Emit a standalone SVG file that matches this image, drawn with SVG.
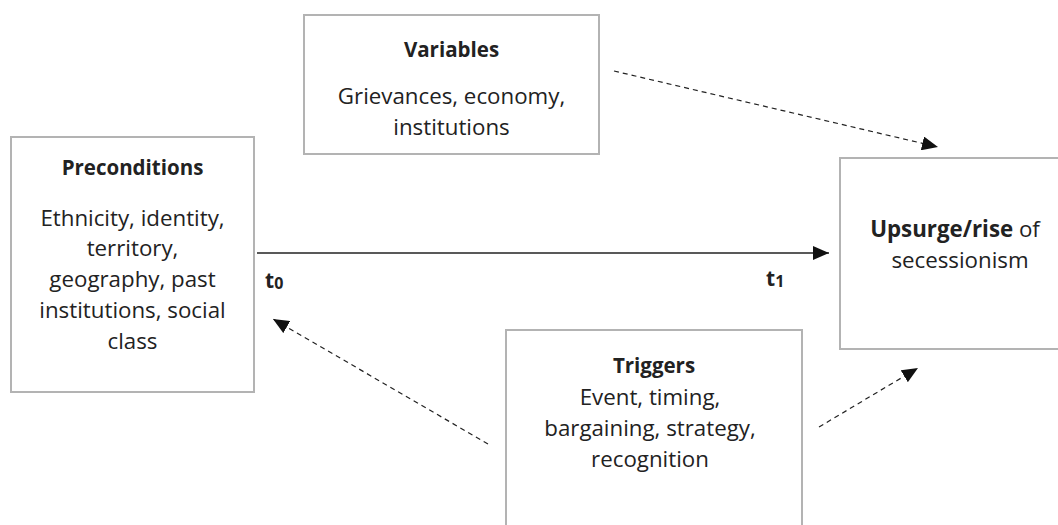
<svg xmlns="http://www.w3.org/2000/svg" width="1058" height="525" viewBox="0 0 1058 525">
<style>
.box{fill:#fff;stroke:#b3b3b3;stroke-width:2}
.t{font-family:"Open Sans","Liberation Sans",sans-serif;font-size:22.3px;fill:#222;text-anchor:middle}
.h{font-weight:bold;font-size:20.5px}
.tl{font-family:"Open Sans","Liberation Sans",sans-serif;font-size:21px;font-weight:bold;fill:#222}
.solid{stroke:#222;stroke-width:1.4;fill:none}
.dash{stroke:#222;stroke-width:1.2;fill:none;stroke-dasharray:5 4}
</style>
<defs>
<marker id="ah" markerUnits="userSpaceOnUse" markerWidth="18" markerHeight="14" refX="16" refY="7" orient="auto">
<path d="M0,0 L16,7 L0,14 Z" fill="#111"/>
</marker>
</defs>
<rect width="1058" height="525" fill="#fff"/>
<g id="preconditions">
<rect class="box" x="11" y="137" width="243" height="255"/>
<text class="t h" x="132.5" y="175">Preconditions</text>
<text class="t" x="132.5" y="226">Ethnicity, identity,</text>
<text class="t" x="132.5" y="256">territory,</text>
<text class="t" x="132.5" y="287">geography, past</text>
<text class="t" x="132.5" y="318">institutions, social</text>
<text class="t" x="132.5" y="349">class</text>
</g>
<g id="variables">
<rect class="box" x="304" y="15" width="295" height="139"/>
<text class="t h" x="451.5" y="57">Variables</text>
<text class="t" x="451.5" y="104">Grievances, economy,</text>
<text class="t" x="451.5" y="135">institutions</text>
</g>
<g id="upsurge">
<rect class="box" x="840" y="158" width="260" height="191"/>
<text class="t" x="955" y="237"><tspan font-weight="bold">Upsurge/rise</tspan> of</text>
<text class="t" x="960" y="268">secessionism</text>
</g>
<g id="triggers">
<rect class="box" x="506" y="330" width="296" height="210"/>
<text class="t h" x="654" y="373">Triggers</text>
<text class="t" x="650" y="405">Event, timing,</text>
<text class="t" x="650" y="436">bargaining, strategy,</text>
<text class="t" x="650" y="467">recognition</text>
</g>
<g id="connectors">
<line class="solid" x1="257" y1="253" x2="829" y2="253" marker-end="url(#ah)"/>
<line class="dash" x1="614" y1="71" x2="938" y2="147" marker-end="url(#ah)"/>
<line class="dash" x1="488" y1="444" x2="273" y2="319" marker-end="url(#ah)"/>
<line class="dash" x1="819" y1="427" x2="918" y2="368" marker-end="url(#ah)"/>
</g>
<g id="labels">
<text class="tl" x="265" y="288">t<tspan font-size="16" dy="1">0</tspan></text>
<text class="tl" x="766" y="286">t<tspan font-size="16" dy="1">1</tspan></text>
</g>
</svg>
